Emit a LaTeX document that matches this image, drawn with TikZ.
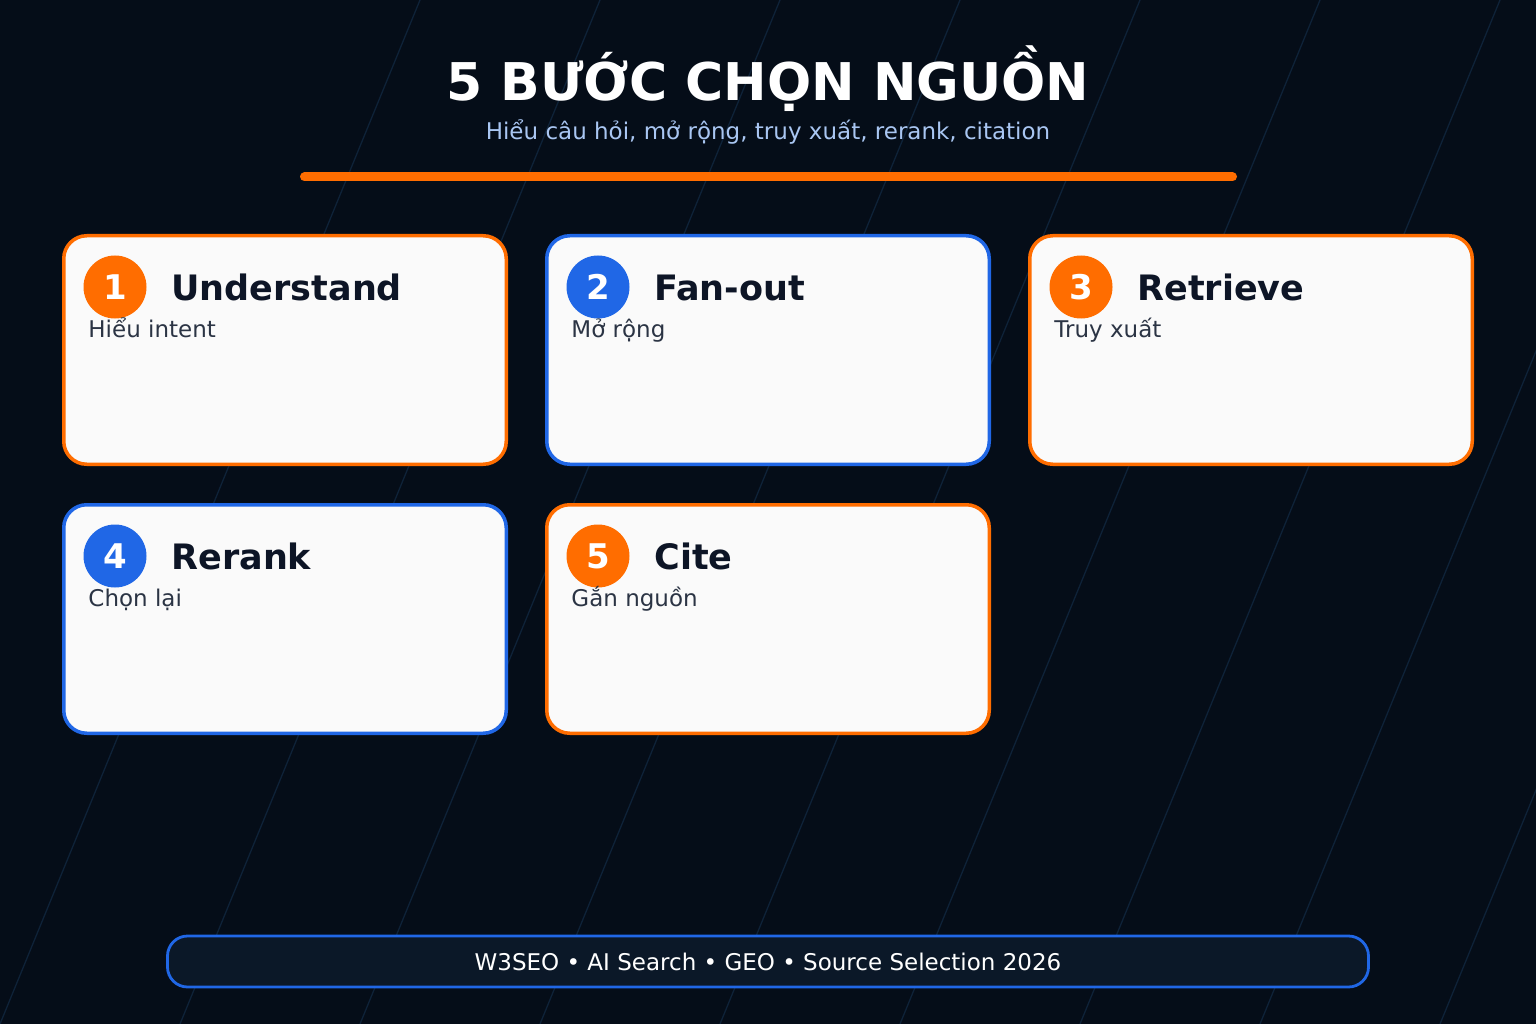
\documentclass[tikz,border=0pt]{standalone}
\usepackage{fontspec}
\setmainfont{DejaVu Sans}
\definecolor{bg}{HTML}{050D18}
\definecolor{gridline}{HTML}{0E2238}
\definecolor{orng}{HTML}{FF6D00}
\definecolor{blu}{HTML}{2067E6}
\definecolor{cardfill}{HTML}{FAFAFA}
\definecolor{ink}{HTML}{0D1526}
\definecolor{subink}{HTML}{2B3444}
\definecolor{subtl}{HTML}{A9C6F2}
\definecolor{footfill}{HTML}{0B1828}
\tikzset{
  card/.style={draw=#1, line width=3.5pt, fill=cardfill, rounded corners=23pt,
    minimum width=442.5pt, minimum height=228.5pt, anchor=north west, inner sep=0pt, outer sep=0pt},
  numcirc/.style={circle, fill=#1, minimum size=63pt, inner sep=0pt, text=white,
    font=\fontsize{34}{34}\selectfont\bfseries},
  cardtitle/.style={anchor=base west, inner sep=0pt, text=ink, font=\fontsize{35}{40}\selectfont\bfseries},
  cardsub/.style={anchor=base west, inner sep=0pt, text=subink, font=\fontsize{23}{27}\selectfont},
  bgline/.style={draw=gridline, line width=1.3pt},
}
\newcommand\stepcard[7]{%
  \node[card=#4] (#1) at (#2,#3) {};
  \node[numcirc=#4] (#1n) at ([shift={(51.25,51.25)}]#1.north west) {#5};
  \node[cardtitle] (#1t) at ([shift={(107.5,64.5)}]#1.north west) {#6};
  \node[cardsub] (#1s) at ([shift={(24.5,102)}]#1.north west) {#7};
}
\begin{document}
\begin{tikzpicture}[x=1pt,y=-1pt]
\fill[bg] (0,0) rectangle (1536,1024);
\useasboundingbox (0,0) rectangle (1536,1024);
\begin{scope}
\clip (0,0) rectangle (1536,1024);
\foreach \xx in {420,600,...,1900} {
  \draw[bgline] (\xx,0) -- ({\xx-420},1024);
}
\end{scope}
\node[anchor=base, text=white, font=\fontsize{52}{60}\selectfont\bfseries, inner sep=0pt] (title) at (768,101) {5 BƯỚC CHỌN NGUỒN};
\node[anchor=base, text=subtl, font=\fontsize{23}{27}\selectfont, inner sep=0pt] (subtitle) at (768,140) {Hiểu câu hỏi, mở rộng, truy xuất, rerank, citation};
\coordinate (barl) at (304.5,177);
\coordinate (barr) at (1232.5,177);
\draw[orng, line width=9pt, line cap=round] (barl) -- (barr);
\stepcard{c1}{63.75}{235.75}{orng}{1}{Understand}{Hiểu intent}
\stepcard{c2}{546.75}{235.75}{blu}{2}{Fan-out}{Mở rộng}
\stepcard{c3}{1029.75}{235.75}{orng}{3}{Retrieve}{Truy xuất}
\stepcard{c4}{63.75}{504.75}{blu}{4}{Rerank}{Chọn lại}
\stepcard{c5}{546.75}{504.75}{orng}{5}{Cite}{Gắn nguồn}
\node[draw=blu, line width=2.8pt, fill=footfill, rounded corners=20pt, minimum width=1201pt, minimum height=51pt,
  inner sep=0pt, text=white, font=\fontsize{23}{27}\selectfont] (footer) at (768,961.5) {W3SEO • AI Search • GEO • Source Selection 2026};
\end{tikzpicture}
\end{document}
